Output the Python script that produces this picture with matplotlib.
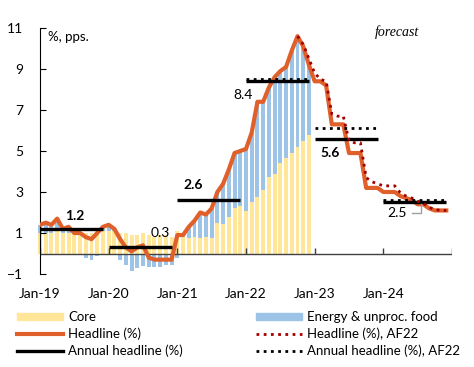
import matplotlib.pyplot as plt
from matplotlib.lines import Line2D
from matplotlib.patches import Patch
import numpy as np

plt.rcParams['font.family'] = ['Lato', 'DejaVu Sans']

# monthly contributions (pps), Jan-19 .. Dec-22
core = [1.0, 1.0, 1.0, 1.1, 1.0, 1.0, 1.0, 1.0, 1.0, 1.0, 1.1, 1.1,
        1.1, 1.1, 1.0, 1.0, 0.9, 0.9, 1.0, 0.9, 0.8, 0.9, 0.9, 0.8,
        1.1, 0.8, 0.75, 0.8, 0.75, 0.8, 0.75, 1.5, 1.45, 1.8, 2.2, 2.3,
        2.05, 2.5, 2.75, 3.1, 3.75, 3.9, 4.4, 4.65, 4.9, 5.2, 5.5, 5.8]
energy = [0.4, 0.5, 0.4, 0.6, 0.2, 0.3, 0.0, 0.0, -0.2, -0.3, -0.1, 0.2,
          0.3, 0.1, -0.3, -0.55, -0.85, -0.7, -0.6, -0.65, -0.65, -0.65, -0.55, -0.55,
          -0.2, 0.1, 0.55, 0.8, 1.25, 1.1, 1.45, 1.5, 1.95, 2.3, 2.7, 2.7,
          3.05, 3.4, 4.65, 4.3, 4.35, 4.7, 4.5, 4.45, 5.0, 5.4, 4.6, 3.4]

# headline (%), Jan-19 .. Dec-24
headline = [1.4, 1.5, 1.4, 1.7, 1.2, 1.3, 1.0, 1.0, 0.8, 0.7, 1.0, 1.3,
            1.4, 1.2, 0.7, 0.3, 0.1, 0.3, 0.4, -0.2, -0.3, -0.3, -0.3, -0.3,
            0.9, 0.9, 1.3, 1.6, 2.0, 1.9, 2.2, 3.0, 3.4, 4.1, 4.9, 5.0,
            5.1, 5.9, 7.4, 7.4, 8.1, 8.6, 8.9, 9.1, 9.9, 10.6, 10.1, 9.2,
            8.4, 8.4, 8.2, 6.3, 6.3, 6.3, 4.9, 4.9, 4.9, 3.2, 3.2, 3.2,
            3.0, 3.0, 3.0, 2.8, 2.7, 2.6, 2.4, 2.4, 2.2, 2.1, 2.1, 2.1]

# headline (%), AF22, Oct-22 .. Dec-24
af22_start = 45
headline_af22 = [10.6, 10.2, 9.5,
                 8.8, 8.5, 8.4, 6.8, 6.7, 6.7, 5.5, 5.4, 5.4, 3.7, 3.5, 3.4,
                 3.3, 3.3, 3.3, 2.95, 2.8, 2.7, 2.55, 2.45, 2.25, 2.15, 2.1, 2.1]

annual = [1.2, 0.3, 2.6, 8.4, 5.6, 2.5]
annual_af22 = [8.5, 6.1, 2.6]   # 2022 .. 2024
annual_labels = ['1.2', '0.3', '2.6', '8.4', '5.6', '2.5']
year_labels = ['Jan-19', 'Jan-20', 'Jan-21', 'Jan-22', 'Jan-23', 'Jan-24']

c_core = '#FFE699'
c_energy = '#9DC3E6'
c_head = '#E0602C'
c_af22 = '#A00000'

fig = plt.figure(figsize=(4.74, 3.67), dpi=100)
ax = fig.add_axes([40/474, 1-274/367, 412/474, 246/367])

x = np.arange(len(core))
core = np.array(core)
energy = np.array(energy)
bottom = np.where(energy >= 0, core, 0)
ax.bar(x, core, width=0.68, color=c_core, zorder=1, clip_on=False)
ax.bar(x, energy, bottom=bottom, width=0.68, color=c_energy, zorder=1, clip_on=False)

ax.axhline(0, color='#404040', lw=1, zorder=2)
ax.vlines(np.arange(0, 73, 12), 0, 0.25, color='#404040', lw=1, zorder=2)

ax.plot(np.arange(len(headline)), headline, color=c_head, lw=3.0, zorder=3,
        solid_joinstyle='round')

for k, v in enumerate(annual):
    ax.plot([12*k, 12*k + 11], [v, v], color='black', lw=2.4, zorder=4,
            solid_capstyle='butt')

xa = np.arange(af22_start, af22_start + len(headline_af22))
ax.plot(xa, headline_af22, color=c_af22, lw=2, ls=(0, (1, 1.6)), zorder=5)

for k, v in enumerate(annual_af22):
    k0 = 36 + 12*k
    ax.plot([k0, k0 + 11], [v, v], color='black', lw=2, ls=(0, (1, 1.6)), zorder=6)

# value labels
lab_pos = [(6.1, 1.85, 'bold'), (21, 1.0, 'normal'), (26.8, 3.34, 'bold'),
           (35.5, 7.73, 'normal'), (50.7, 4.92, 'bold'), (62.4, 1.98, 'normal')]
for (lx, ly, w), t in zip(lab_pos, annual_labels):
    ax.text(lx, ly, t, ha='center', va='center', fontsize=10, fontweight=w, zorder=7)
ax.plot([65.0, 66.5, 66.5], [1.98, 1.98, 2.4], color='#A0A0A0', lw=1, zorder=7)

ax.text(1.4, 10.56, '%, pps.', ha='left', va='center', fontsize=9.5)
ax.text(62.4, 10.8, 'forecast', ha='center', va='center', fontsize=10,
        family='Liberation Serif', style='italic')

ax.set_xlim(0, 72)
ax.set_ylim(-1, 11)
ax.set_yticks([-1, 1, 3, 5, 7, 9, 11])
ax.tick_params(axis='y', direction='in', length=4, pad=12, labelsize=10)
ax.set_xticks(np.arange(0, 61, 12))
ax.set_xticklabels(year_labels)
ax.tick_params(axis='x', length=0, pad=10, labelsize=10)
for s in ['top', 'right', 'bottom']:
    ax.spines[s].set_visible(False)

h1 = [Patch(color=c_core), Line2D([], [], color=c_head, lw=3.0),
      Line2D([], [], color='black', lw=2.4)]
l1 = ['Core', 'Headline (%)', 'Annual headline (%)']
h2 = [Patch(color=c_energy), Line2D([], [], color=c_af22, lw=2, ls=(0, (1, 1.6))),
      Line2D([], [], color='black', lw=2, ls=(0, (1, 1.6)))]
l2 = ['Energy & unproc. food', 'Headline (%), AF22', 'Annual headline (%), AF22']
for hh, ll, x0 in [(h1, l1, 17), (h2, l2, 256)]:
    fig.legend(hh, ll, loc='upper left', bbox_to_anchor=(x0/474, 1-311/367),
               frameon=False, fontsize=9.5, handlelength=3.5, handleheight=0.5,
               handletextpad=0.4, labelspacing=0.35, borderpad=0, borderaxespad=0)

fig.savefig('out.png', dpi=100)
